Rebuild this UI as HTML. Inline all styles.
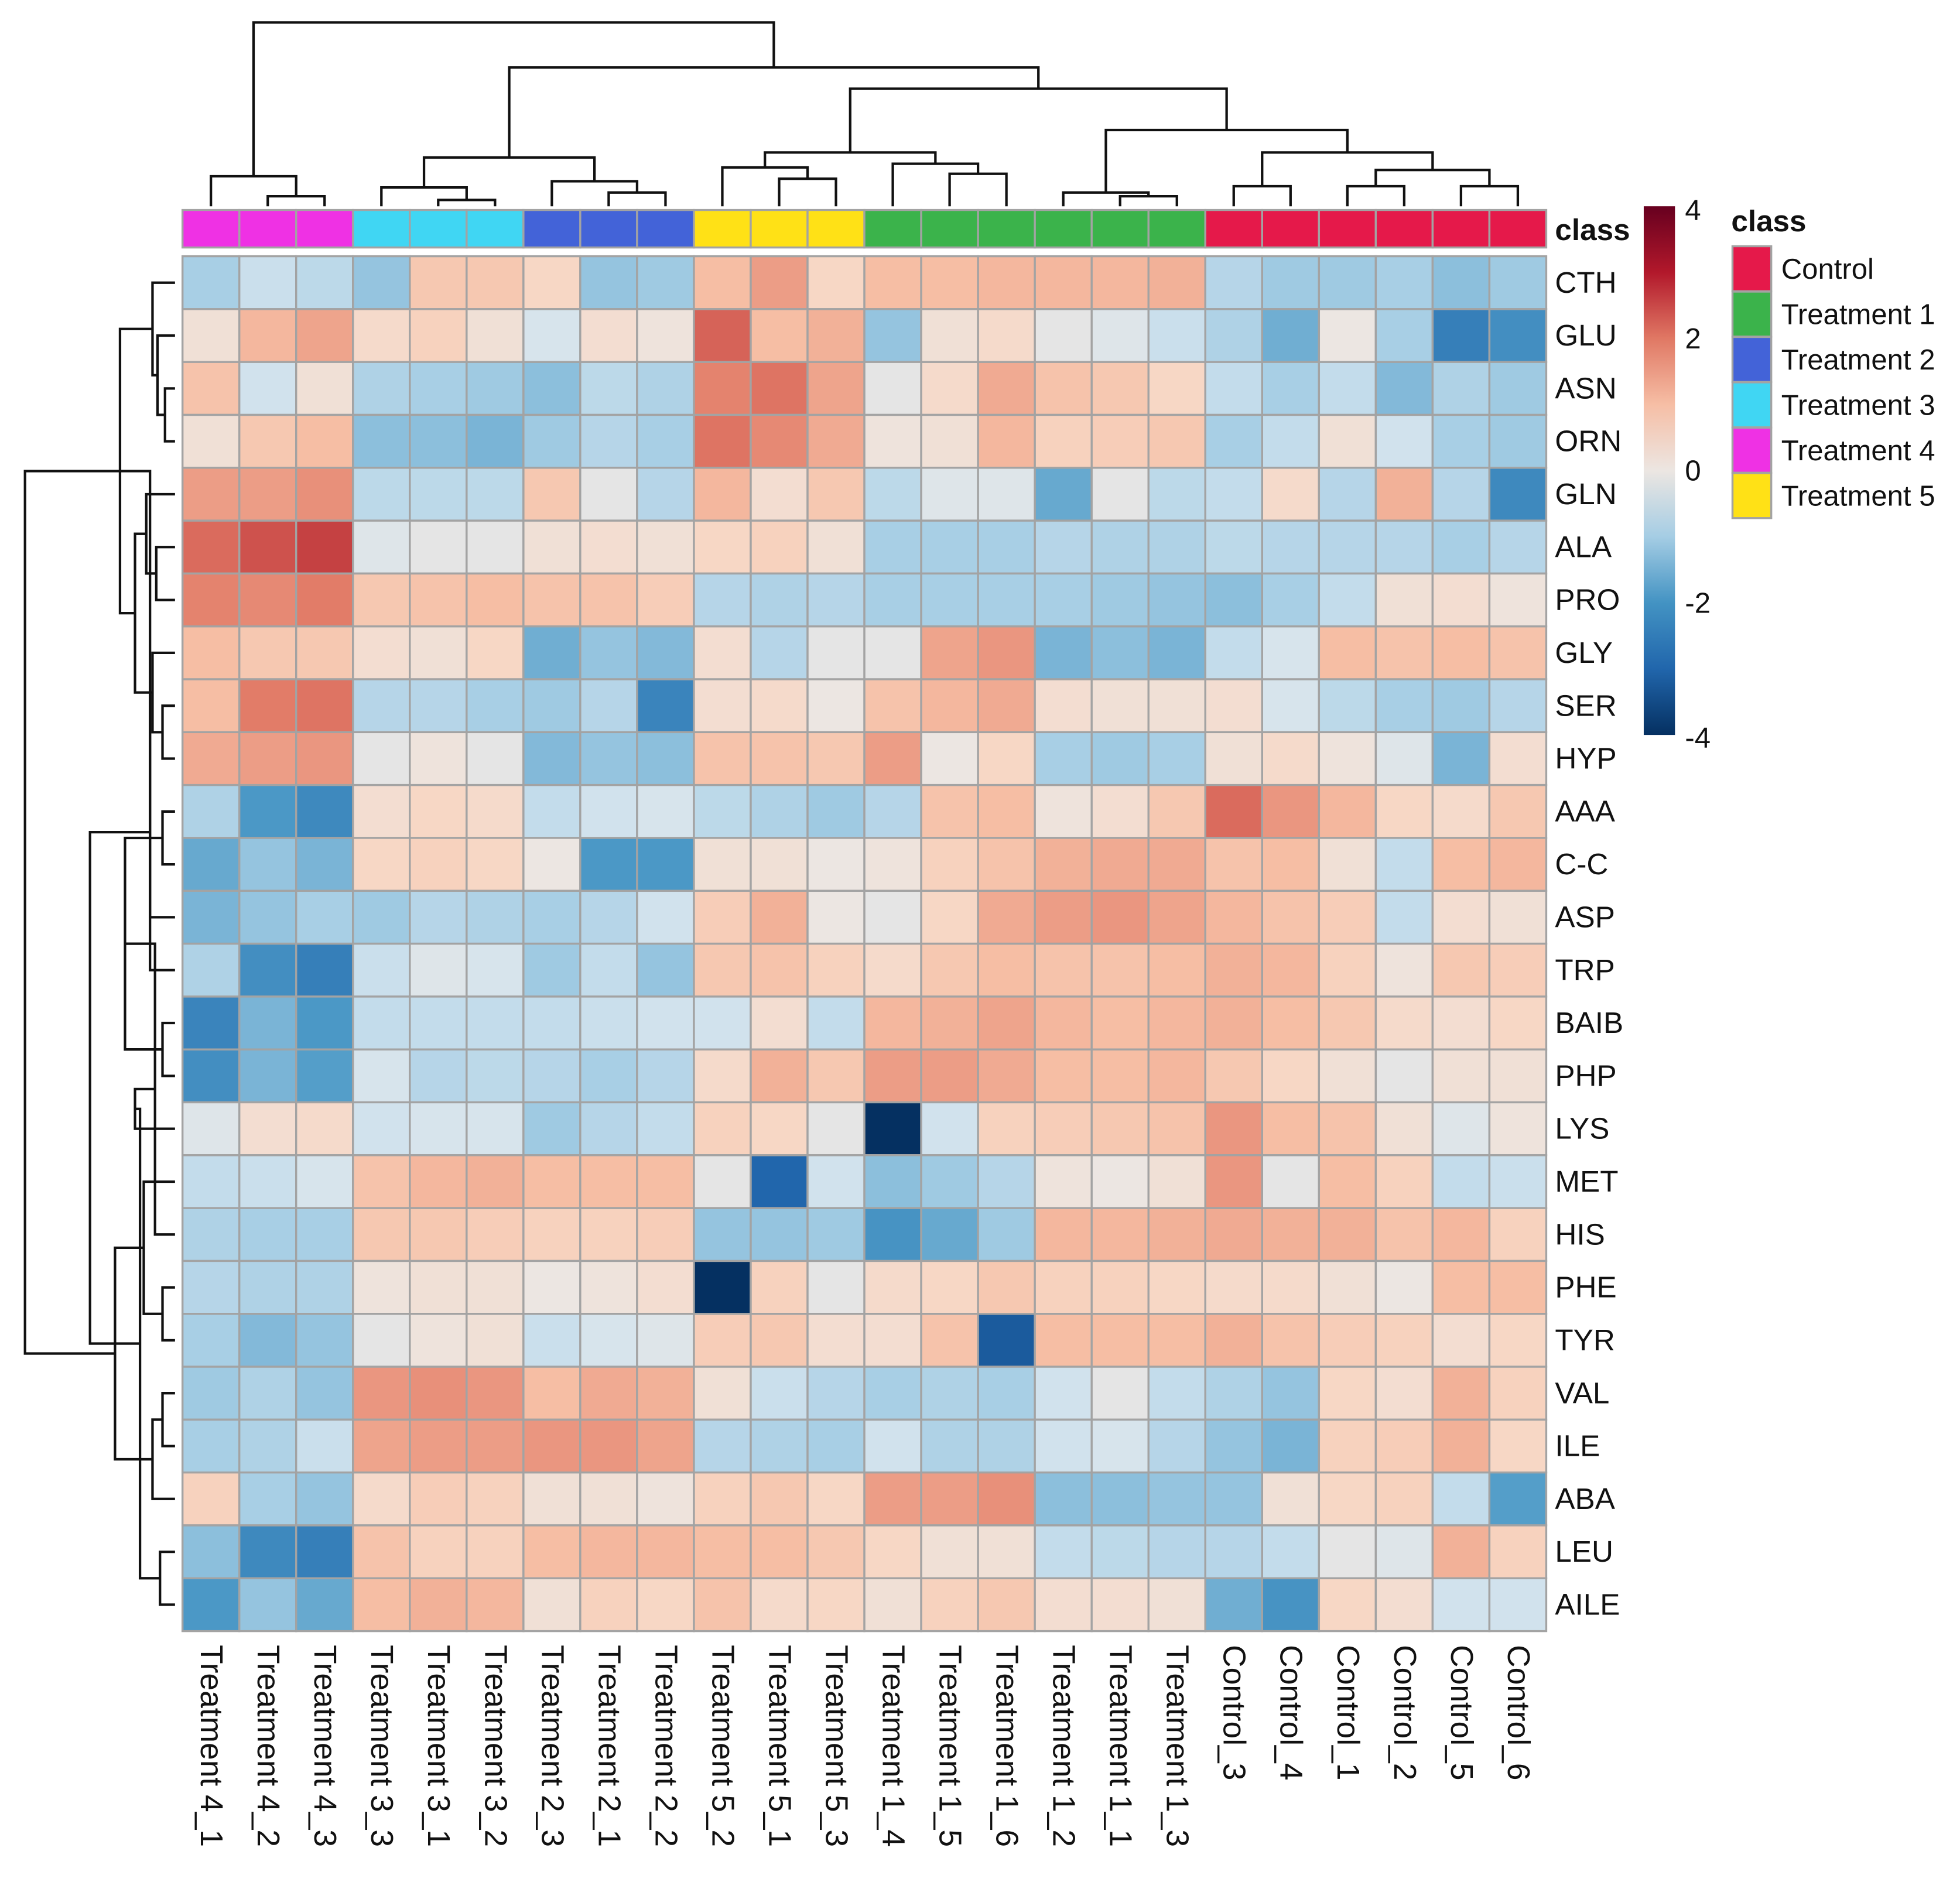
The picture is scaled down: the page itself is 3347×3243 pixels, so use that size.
<!DOCTYPE html>
<html><head><meta charset="utf-8"><style>
html,body{margin:0;padding:0;background:#fff;}
svg{display:block;font-family:"Liberation Sans",sans-serif;}
</style></head><body>
<svg id="chart" width="3347" height="3243" viewBox="0 0 1568 1519.3" xmlns="http://www.w3.org/2000/svg">
<defs><linearGradient id="cbar" x1="0" y1="1" x2="0" y2="0">
<stop offset="0" stop-color="#053061"/><stop offset="0.125" stop-color="#2166ac"/><stop offset="0.25" stop-color="#4393c3"/><stop offset="0.375" stop-color="#a5cde4"/><stop offset="0.5" stop-color="#ece6e2"/><stop offset="0.625" stop-color="#f6bea5"/><stop offset="0.75" stop-color="#e07864"/><stop offset="0.875" stop-color="#b2182b"/><stop offset="1" stop-color="#67001f"/></linearGradient></defs>
<g id="g"></g>
</svg>
<script>
const samples=["Treatment 4_1","Treatment 4_2","Treatment 4_3","Treatment 3_3","Treatment 3_1","Treatment 3_2","Treatment 2_3","Treatment 2_1","Treatment 2_2","Treatment 5_2","Treatment 5_1","Treatment 5_3","Treatment 1_4","Treatment 1_5","Treatment 1_6","Treatment 1_2","Treatment 1_1","Treatment 1_3","Control_3","Control_4","Control_1","Control_2","Control_5","Control_6"];
const sampleClass=[4,4,4,3,3,3,2,2,2,5,5,5,1,1,1,1,1,1,0,0,0,0,0,0];
const classNames=["Control","Treatment 1","Treatment 2","Treatment 3","Treatment 4","Treatment 5"];
const classColors=["#e5194a","#3bb34b","#4363d8","#40d6f3","#ef31e4","#ffe116"];
const metabolites=["CTH","GLU","ASN","ORN","GLN","ALA","PRO","GLY","SER","HYP","AAA","C-C","ASP","TRP","BAIB","PHP","LYS","MET","HIS","PHE","TYR","VAL","ILE","ABA","LEU","AILE"];
const values=[
[-1,-0.5,-0.7,-1.2,0.8,0.8,0.5,-1.2,-1.1,1,1.5,0.5,1,1,1.1,1.1,1.1,1.2,-0.8,-1.1,-1.1,-1,-1.3,-1.1],
[0.2,1.1,1.4,0.4,0.6,0.2,-0.3,0.3,0.1,2.3,1,1.2,-1.2,0.2,0.4,-0.1,-0.2,-0.5,-0.9,-1.6,0,-1,-2.5,-2.2],
[0.9,-0.4,0.2,-0.9,-1,-1.1,-1.3,-0.7,-0.9,1.9,2.1,1.4,-0.1,0.4,1.3,0.9,0.8,0.5,-0.6,-1,-0.6,-1.4,-0.9,-1.1],
[0.2,0.8,1,-1.3,-1.3,-1.5,-1.1,-0.8,-1,2.1,1.8,1.3,0.1,0.2,1.1,0.6,0.7,0.8,-1,-0.6,0.2,-0.4,-1,-1.1],
[1.5,1.5,1.7,-0.7,-0.7,-0.7,0.8,-0.1,-0.8,1.1,0.3,0.8,-0.7,-0.2,-0.2,-1.7,-0.1,-0.7,-0.6,0.4,-0.8,1.2,-0.8,-2.3],
[2.2,2.5,2.7,-0.2,-0.1,-0.1,0.2,0.3,0.2,0.5,0.6,0.2,-1,-1,-1,-0.8,-0.9,-0.9,-0.7,-0.8,-0.8,-0.8,-1,-0.8],
[1.9,1.8,2,0.8,0.9,1,0.9,0.9,0.7,-0.8,-0.9,-0.8,-1,-1,-1,-1,-1.1,-1.2,-1.3,-1,-0.6,0.2,0.3,0.1],
[1,0.8,0.8,0.3,0.2,0.5,-1.6,-1.2,-1.4,0.3,-0.8,-0.1,-0.1,1.4,1.6,-1.5,-1.3,-1.5,-0.6,-0.3,1,0.9,1,0.9],
[1,2,2.1,-0.8,-0.8,-1,-1.1,-0.8,-2.4,0.3,0.4,0,0.9,1.1,1.3,0.3,0.2,0.2,0.3,-0.3,-0.7,-1,-1.1,-0.8],
[1.3,1.5,1.6,-0.1,0.1,-0.1,-1.4,-1.2,-1.3,0.9,0.9,0.8,1.5,0,0.5,-1,-1.1,-1,0.2,0.4,0.1,-0.2,-1.5,0.3],
[-0.9,-2,-2.3,0.3,0.5,0.4,-0.6,-0.4,-0.3,-0.7,-0.9,-1.1,-0.8,0.9,1,0.1,0.3,0.8,2.2,1.6,1.1,0.5,0.4,0.8],
[-1.7,-1.2,-1.5,0.5,0.6,0.5,0,-2,-2,0.2,0.2,0,0.1,0.6,0.9,1.2,1.3,1.3,0.9,1,0.2,-0.6,1,1.1],
[-1.5,-1.2,-1,-1.1,-0.8,-0.9,-1,-0.8,-0.4,0.7,1.2,0,-0.1,0.5,1.3,1.5,1.6,1.4,1.1,0.9,0.7,-0.6,0.3,0.2],
[-0.9,-2.2,-2.5,-0.5,-0.2,-0.3,-1.1,-0.6,-1.2,0.8,0.9,0.6,0.4,0.8,1,0.9,0.9,1,1.2,1.1,0.6,0.1,0.8,0.7],
[-2.4,-1.5,-2,-0.6,-0.6,-0.6,-0.6,-0.5,-0.4,-0.4,0.3,-0.6,1.1,1.2,1.4,1.1,1,1.1,1.2,1,0.8,0.4,0.3,0.5],
[-2.2,-1.5,-1.9,-0.3,-0.8,-0.7,-0.8,-1,-0.8,0.4,1.2,0.8,1.5,1.5,1.3,1,1,1.1,0.8,0.5,0.2,-0.1,0.2,0.2],
[-0.2,0.3,0.4,-0.4,-0.3,-0.3,-1.1,-0.8,-0.6,0.6,0.5,-0.1,-4,-0.4,0.6,0.7,0.8,0.9,1.6,1,0.9,0.2,-0.2,0.1],
[-0.6,-0.5,-0.3,0.9,1.1,1.2,1,1,1,-0.1,-3,-0.4,-1.3,-1.1,-0.8,0.1,0,0.2,1.6,-0.1,1,0.6,-0.6,-0.5],
[-0.9,-1,-1,0.8,0.8,0.7,0.6,0.6,0.7,-1.2,-1.2,-1.1,-2.1,-1.7,-1.1,1.1,1.1,1.2,1.3,1.2,1.2,0.9,1.1,0.6],
[-0.8,-0.9,-0.9,0.1,0.2,0.2,0,0.1,0.3,-4.2,0.6,-0.1,0.4,0.5,0.8,0.6,0.6,0.5,0.4,0.4,0.2,0,1,1],
[-1,-1.4,-1.2,-0.1,0.1,0.2,-0.5,-0.3,-0.2,0.7,0.8,0.3,0.3,0.9,-3.2,1,1,1,1.2,0.9,0.7,0.6,0.3,0.5],
[-1.1,-0.9,-1.2,1.6,1.7,1.6,1,1.3,1.2,0.2,-0.5,-0.8,-1,-0.9,-1,-0.4,-0.1,-0.6,-0.9,-1.2,0.5,0.3,1.2,0.6],
[-1,-0.9,-0.5,1.4,1.5,1.5,1.6,1.6,1.4,-0.8,-0.9,-1,-0.4,-0.9,-0.9,-0.4,-0.3,-0.8,-1.2,-1.5,0.6,0.7,1.2,0.5],
[0.6,-1,-1.2,0.4,0.7,0.6,0.2,0.2,0.1,0.6,0.8,0.5,1.5,1.5,1.7,-1.3,-1.3,-1.2,-1.2,0.2,0.5,0.6,-0.6,-1.9],
[-1.3,-2.3,-2.5,0.9,0.6,0.6,1,1.1,1.1,1,1,0.8,0.5,0.2,0.2,-0.6,-0.7,-0.8,-0.8,-0.6,-0.1,-0.2,1.2,0.6],
[-2,-1.2,-1.7,1,1.2,1.1,0.2,0.6,0.5,0.9,0.4,0.5,0.2,0.6,0.8,0.3,0.3,0.2,-1.6,-2.1,0.5,0.3,-0.4,-0.4]];
// dendrogram merges: [nodeA, nodeB, height]; leaves are 0..n-1, merge k is node n+k
const colMerges=[[1,2,8],[0,24,24],[4,5,5],[3,26,15],[7,8,11],[6,28,20],[27,29,39],[10,11,22],[9,31,31],[13,14,26],[12,33,34],[32,34,43],[16,17,8],[15,36,11],[18,19,16],[20,21,16],[22,23,16],[39,40,29],[38,41,43],[37,42,61],[35,43,94],[30,44,111],[25,45,147]];
const rowMerges=[[2,3,8],[1,26,14],[0,27,18],[5,6,15],[4,29,23],[8,9,10],[7,31,18],[30,32,32],[28,33,44],[10,11,10],[34,12,20],[14,15,10],[13,36,20],[35,37,40],[19,20,10],[18,39,16],[17,40,25],[16,41,32],[21,22,10],[24,25,12],[23,44,18],[43,45,28],[42,46,48],[38,47,68],[34,48,120]];
const vmin=-4,vmax=4;
const stops=[[-4,[5,48,97]],[-3,[33,102,172]],[-2,[75,152,198]],[-1,[168,207,229]],[-0.35,[212,228,238]],[0,[236,230,226]],[0.5,[247,215,197]],[1,[246,190,164]],[2,[226,124,104]],[3,[185,40,50]],[4,[103,0,31]]];
function col(v){v=Math.max(vmin,Math.min(vmax,v));for(let i=0;i<stops.length-1;i++){const a=stops[i],b=stops[i+1];if(v<=b[0]){const t=(v-a[0])/(b[0]-a[0]);const c=a[1].map((x,j)=>Math.round(x+(b[1][j]-x)*t));return `rgb(${c})`;}}return 'rgb(103,0,31)';}
const NS="http://www.w3.org/2000/svg",g=document.getElementById('g');
function el(t,a,p){const e=document.createElementNS(NS,t);for(const k in a)e.setAttribute(k,a[k]);(p||g).appendChild(e);return e;}
const X0=146,X1=1237,Y0=205,Y1=1305;
const cw=(X1-X0)/samples.length,rh=(Y1-Y0)/metabolites.length;
const xC=i=>X0+cw*(i+0.5), yR=r=>Y0+rh*(r+0.5);
const cells=el('g',{});


values.forEach((row,r)=>row.forEach((v,c)=>{const e=el('rect',{x:X0+c*cw,y:Y0+r*rh,width:cw,height:rh,fill:col(v),stroke:'#a3a3a3','stroke-width':1.6},cells);

}));
const cb=el('g',{});


sampleClass.forEach((k,c)=>{const e=el('rect',{x:X0+c*cw,y:168,width:cw,height:30,fill:classColors[k],stroke:'#a3a3a3','stroke-width':1.6},cb);

});
let t=el('text',{x:1244,y:192,'font-size':24,'font-weight':'bold',fill:'#111'});t.textContent='class';


metabolites.forEach((m,r)=>{const e=el('text',{x:1244,y:yR(r)+8,'font-size':24,fill:'#111'});e.textContent=m;

});
samples.forEach((s,c)=>{const e=el('text',{transform:`translate(${xC(c)-8},1316) rotate(90)`,'font-size':25,fill:'#111'});e.textContent=s;

});
function dendro(merges,n,leafPos,base,scale,vertical,name){
  const pos=[],h=[];for(let i=0;i<n;i++){pos.push(leafPos(i));h.push(0);}
  const dg=el('g',{fill:'none',stroke:'#111','stroke-width':2});
  
  
  merges.forEach(([a,b,ht])=>{const pa=pos[a],pb=pos[b],ha=h[a],hb=h[b];
    let d;const f=v=>base-v*scale;
    if(vertical) d=`M${pa},${f(ha)}V${f(ht)}H${pb}V${f(hb)}`;
    else d=`M${f(ha)},${pa}H${f(ht)}V${pb}H${f(hb)}`;
    el('path',{d},dg);pos.push((pa+pb)/2);h.push(ht);});
}
dendro(colMerges,samples.length,xC,165,1,true,'column-dendrogram');
dendro(rowMerges,metabolites.length,yR,140,1,false,'row-dendrogram');
const cbar=el('rect',{x:1315,y:165,width:25,height:423,fill:'url(#cbar)'});


const cbTicks=[4,2,0,-2,-4];
cbTicks.forEach(v=>{const y=165+(4-v)/8*423;const e=el('text',{x:1348,y:y+8+(v==4?3:0)-(v==-4?-2:0),'font-size':23,fill:'#111'});e.textContent=v;

});
t=el('text',{x:1385,y:185,'font-size':24,'font-weight':'bold',fill:'#111'});t.textContent='class';


classNames.forEach((nm,i)=>{const y=197+i*36.3;
const r=el('rect',{x:1386,y:y,width:31,height:36,fill:classColors[i],stroke:'#a3a3a3','stroke-width':1.6});


const e=el('text',{x:1425,y:y+26,'font-size':23,fill:'#111'});e.textContent=nm;

});
</script>
</body></html>
